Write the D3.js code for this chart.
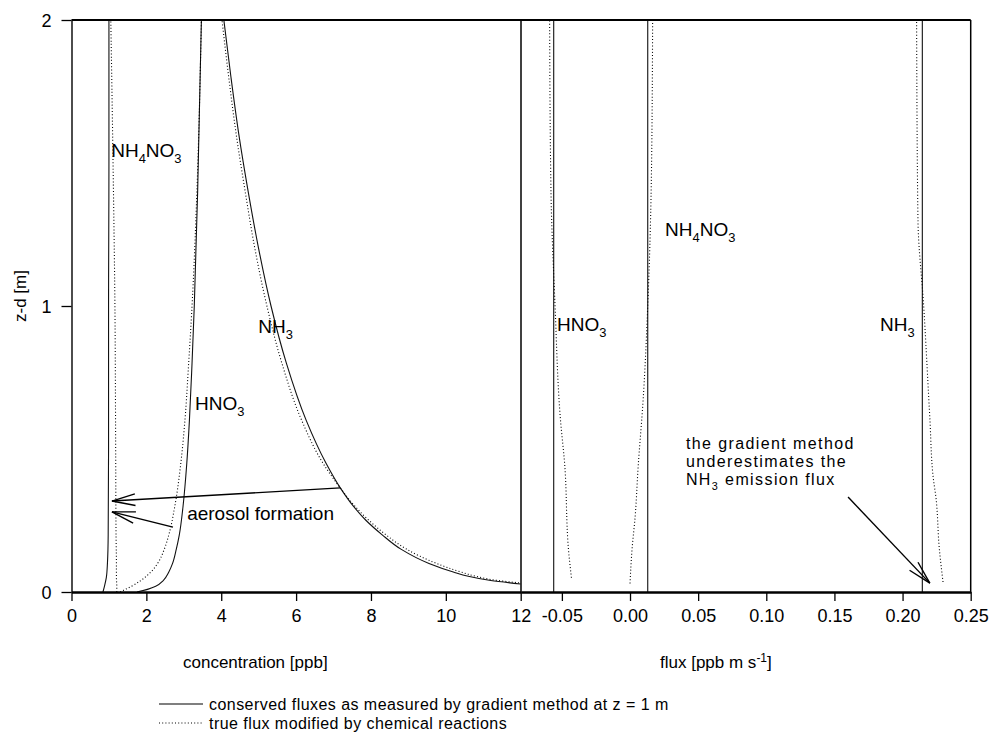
<!DOCTYPE html>
<html>
<head>
<meta charset="utf-8">
<script src="https://cdn.jsdelivr.net/npm/d3@7"></script>
<style>
  html, body { margin: 0; padding: 0; background: #fff; }
  svg { display: block; font-family: "Liberation Sans", Arial, Helvetica, sans-serif; }
</style>
</head>
<body>
<svg id="chart" width="992" height="734"></svg>
<script>
// ---- Concentration profiles (ppb) against height z-d (m) ----
const nh3Z          = [0.028, 0.04, 0.055, 0.07, 0.1, 0.15, 0.2, 0.25, 0.3, 0.364, 0.45, 0.6, 0.8, 1.0, 1.2, 1.4, 1.6, 1.8, 2.0];
const nh3Conserved  = [12.0, 11.2, 10.6, 10.2, 9.55, 8.8, 8.3, 7.87, 7.53, 7.18, 6.8, 6.27, 5.74, 5.33, 5.0, 4.72, 4.47, 4.26, 4.07];
const nh3True       = [12.3, 11.4, 10.8, 10.4, 9.75, 8.95, 8.4, 7.95, 7.57, 7.18, 6.72, 6.15, 5.62, 5.22, 4.9, 4.64, 4.4, 4.2, 4.02];

const hno3Z         = [0, 0.01, 0.02, 0.04, 0.07, 0.1, 0.15, 0.2, 0.3, 0.45, 0.6, 0.8, 1.0, 1.4, 2.0];
const hno3Conserved = [1.75, 2.05, 2.25, 2.45, 2.6, 2.7, 2.8, 2.88, 2.98, 3.08, 3.15, 3.22, 3.28, 3.37, 3.47];
const hno3True      = [1.3, 1.45, 1.6, 1.85, 2.12, 2.3, 2.48, 2.6, 2.76, 2.92, 3.03, 3.13, 3.22, 3.35, 3.47];

const nh4no3Z         = [0, 0.02, 0.05, 0.1, 0.2, 0.5, 1.0, 1.5, 2.0];
const nh4no3Conserved = [0.84, 0.88, 0.93, 0.96, 0.98, 0.99, 0.99, 1.0, 1.0];
const nh4no3True      = [1.21, 1.21, 1.2, 1.2, 1.19, 1.18, 1.16, 1.11, 1.05];

// ---- Fluxes (ppb m s-1) against height ----
const hno3FluxConserved   = -0.056;
const nh4no3FluxConserved = 0.013;
const nh3FluxConserved    = 0.2145;

const hno3FluxZ    = [0.05, 0.14, 0.45, 0.6, 1.0, 1.4, 2.0];
const hno3FluxTrue = [-0.043, -0.045, -0.048, -0.051, -0.055, -0.058, -0.059];

const nh4no3FluxZ    = [0.03, 0.15, 0.26, 0.44, 0.67, 1.0, 1.4, 2.0];
const nh4no3FluxTrue = [0.0, 0.0015, 0.0037, 0.006, 0.0096, 0.013, 0.0155, 0.0166];

const nh3FluxZ    = [0.035, 0.15, 0.33, 0.4, 0.61, 1.0, 1.3, 2.0];
const nh3FluxTrue = [0.2297, 0.227, 0.2245, 0.2225, 0.22, 0.2155, 0.2113, 0.2103];

// ---- Axes ----
const concTicks = [0, 2, 4, 6, 8, 10, 12];
const fluxTicks = [-0.05, 0, 0.05, 0.10, 0.15, 0.20, 0.25];
const zTicks    = [0, 1, 2];

const svg = d3.select("#chart");

const y     = d3.scaleLinear().domain([0, 2]).range([592, 20]);
const xConc = d3.scaleLinear().domain([0, 12]).range([71.5, 520.7]);
const xFlux = d3.scaleLinear().domain([-0.08, 0.25]).range([521, 970.7]);

const defs = svg.append("defs");
defs.append("clipPath").attr("id", "clipConc").append("rect")
  .attr("x", xConc(0)).attr("y", y(2)).attr("width", xConc(12) - xConc(0)).attr("height", y(0) - y(2));
defs.append("clipPath").attr("id", "clipFlux").append("rect")
  .attr("x", xFlux(-0.08)).attr("y", y(2)).attr("width", xFlux(0.25) - xFlux(-0.08)).attr("height", y(0) - y(2));

const SOLID = { w: 1.1, dash: null, color: "#111" };
const DOTTED = { w: 1.1, dash: "1,2.2", color: "#000" };

function profile(g, xs, zs, x, style) {
  const pts = zs.map((z, i) => [xs[i], z]);
  g.append("path")
    .datum(pts)
    .attr("fill", "none")
    .attr("stroke", style.color)
    .attr("stroke-width", style.w)
    .attr("stroke-dasharray", style.dash)
    .attr("d", d3.line().x(d => x(d[0])).y(d => y(d[1])).curve(d3.curveMonotoneY));
}

// Concentration panel
const gConc = svg.append("g").attr("clip-path", "url(#clipConc)");
profile(gConc, nh4no3Conserved, nh4no3Z, xConc, SOLID);
profile(gConc, nh4no3True, nh4no3Z, xConc, DOTTED);
profile(gConc, hno3Conserved, hno3Z, xConc, SOLID);
profile(gConc, hno3True, hno3Z, xConc, DOTTED);
profile(gConc, nh3Conserved, nh3Z, xConc, SOLID);
profile(gConc, nh3True, nh3Z, xConc, DOTTED);

// Flux panel
const gFlux = svg.append("g").attr("clip-path", "url(#clipFlux)");
[hno3FluxConserved, nh4no3FluxConserved, nh3FluxConserved].forEach(f => {
  profile(gFlux, [f, f], [0, 2], xFlux, SOLID);
});
profile(gFlux, hno3FluxTrue, hno3FluxZ, xFlux, DOTTED);
profile(gFlux, nh4no3FluxTrue, nh4no3FluxZ, xFlux, DOTTED);
profile(gFlux, nh3FluxTrue, nh3FluxZ, xFlux, DOTTED);

// Frame: top, right edge and panel divider
const frame = svg.append("g").attr("stroke", "#000").attr("fill", "none");
frame.append("line").attr("x1", xConc(0)).attr("x2", xFlux(0.25)).attr("y1", y(2)).attr("y2", y(2)).attr("stroke-width", 2.2);
frame.append("line").attr("x1", xFlux(0.25)).attr("x2", xFlux(0.25)).attr("y1", y(2)).attr("y2", y(0)).attr("stroke-width", 1.5);
frame.append("line").attr("x1", xFlux(-0.08)).attr("x2", xFlux(-0.08)).attr("y1", y(2)).attr("y2", y(0)).attr("stroke-width", 1.5);

// Axes
function styleAxis(g, size) {
  g.selectAll("text").attr("font-size", size).attr("fill", "#000")
    .attr("font-family", "\"Liberation Sans\", Arial, Helvetica, sans-serif");
  g.selectAll("line").attr("stroke", "#000").attr("stroke-width", 1.3);
}

const axConc = svg.append("g").attr("transform", `translate(0,${y(0)})`)
  .call(d3.axisBottom(xConc).tickValues(concTicks).tickFormat(d3.format("d")).tickSize(9).tickSizeOuter(0).tickPadding(8));
const axFlux = svg.append("g").attr("transform", `translate(0,${y(0)})`)
  .call(d3.axisBottom(xFlux).tickValues(fluxTicks).tickFormat(d => d.toFixed(2)).tickSize(9).tickSizeOuter(0).tickPadding(8));
const axZ = svg.append("g").attr("transform", `translate(${xConc(0)},0)`)
  .call(d3.axisLeft(y).tickValues(zTicks).tickFormat(d3.format("d")).tickSize(10).tickSizeOuter(0).tickPadding(10));
[axConc, axFlux, axZ].forEach(a => styleAxis(a, 18));
axConc.select(".domain").attr("stroke", "#000").attr("stroke-width", 2.4);
axFlux.select(".domain").attr("stroke", "#000").attr("stroke-width", 2.4);
axZ.select(".domain").attr("stroke", "#000").attr("stroke-width", 1.4);
axZ.selectAll(".tick text").attr("dy", "0.36em");

// Text helpers: chemical formulas with subscripts
function formula(g, parts, x, yy, size) {
  const t = g.append("text").attr("x", x).attr("y", yy).attr("font-size", size).attr("fill", "#000");
  let low = false;
  parts.forEach(p => {
    const sub = /^[0-9]+$/.test(p);
    const ts = t.append("tspan").text(p);
    if (sub && !low) { ts.attr("dy", size * 0.3).attr("font-size", size * 0.68); low = true; }
    else if (!sub && low) { ts.attr("dy", -size * 0.3); low = false; }
  });
  return t;
}

const labels = svg.append("g");
const LS = 19;
formula(labels, ["NH", "4", "NO", "3"], xConc(1.06), y(1.52), LS);
formula(labels, ["HNO", "3"], xConc(3.3), y(0.636), LS);
formula(labels, ["NH", "3"], xConc(4.99), y(0.906), LS);
labels.append("text").attr("x", xConc(3.09)).attr("y", y(0.252)).attr("font-size", LS).text("aerosol formation");
formula(labels, ["HNO", "3"], xFlux(-0.0535), y(0.913), LS);
formula(labels, ["NH", "4", "NO", "3"], xFlux(0.0257), y(1.245), LS);
formula(labels, ["NH", "3"], xFlux(0.1834), y(0.913), LS);

// Annotation on the flux panel (three tightly set lines)
const NS = 16;
const note = labels.append("g").attr("font-size", NS).attr("letter-spacing", 1.4);
note.append("text").attr("x", xFlux(0.041)).attr("y", y(0.50)).text("the gradient method");
note.append("text").attr("x", xFlux(0.041)).attr("y", y(0.437)).text("underestimates the");
const em = formula(note, ["NH", "3"], xFlux(0.041), y(0.374), NS);
em.append("tspan").attr("dy", -NS * 0.3).attr("font-size", NS).text(" emission flux");

// Arrows with open heads
function arrow(x0, y0, x1, y1, len, ang) {
  const g = svg.append("g").attr("stroke", "#000").attr("stroke-width", 1.4).attr("fill", "none");
  g.append("line").attr("x1", x0).attr("y1", y0).attr("x2", x1).attr("y2", y1);
  const a = Math.atan2(y0 - y1, x0 - x1);
  [-ang, ang].forEach(d => {
    g.append("line").attr("x1", x1).attr("y1", y1)
      .attr("x2", x1 + len * Math.cos(a + d)).attr("y2", y1 + len * Math.sin(a + d));
  });
}
const rad = Math.PI / 180;
arrow(xConc(7.18), y(0.364), xConc(1.08), y(0.318), 24, 14 * rad);
arrow(xConc(2.71), y(0.227), xConc(1.08), y(0.28), 24, 14 * rad);
arrow(xFlux(0.16), y(0.332), xFlux(0.22), y(0.031), 24, 14 * rad);

// Axis titles
const titles = svg.append("g").attr("font-size", 17).attr("fill", "#000");
titles.append("text").attr("x", 183).attr("y", 668).text("concentration [ppb]");
const ft = titles.append("text").attr("x", 660).attr("y", 668);
ft.append("tspan").text("flux [ppb m s");
ft.append("tspan").attr("dy", -6).attr("font-size", 12).text("-1");
ft.append("tspan").attr("dy", 6).text("]");
titles.append("text").attr("transform", `translate(26,${y(1) - 10}) rotate(-90)`)
  .attr("text-anchor", "middle").text("z-d [m]");

// Legend
const legend = svg.append("g");
const legendItems = [
  { label: "conserved fluxes as measured by gradient method at z = 1 m", style: SOLID },
  { label: "true flux modified by chemical reactions", style: DOTTED }
];
legendItems.forEach((it, i) => {
  const yy = 710 + i * 19;
  legend.append("line").attr("x1", 159).attr("x2", 203).attr("y1", yy - 6).attr("y2", yy - 6)
    .attr("stroke", "#000").attr("stroke-width", it.style.w).attr("stroke-dasharray", it.style.dash);
  legend.append("text").attr("x", 209).attr("y", yy).attr("font-size", 16).attr("letter-spacing", 0.45).attr("fill", "#000").text(it.label);
});
</script>
</body>
</html>
